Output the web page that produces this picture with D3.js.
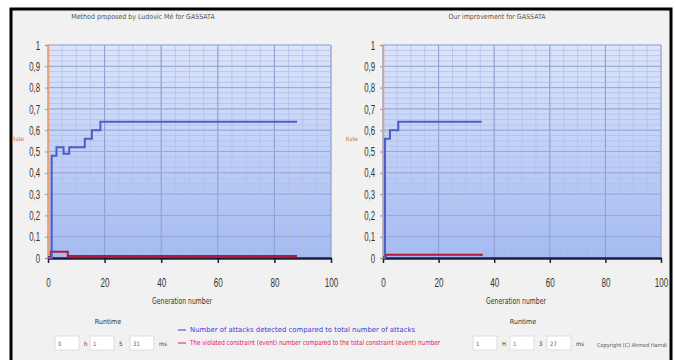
<!DOCTYPE html>
<html>
<head>
<meta charset="utf-8">
<script src="https://cdn.jsdelivr.net/npm/d3@7"></script>
<style>
  body { margin: 0; background: #fff; }
  svg { display: block; font-family: "DejaVu Sans Condensed", "DejaVu Sans", sans-serif; }
</style>
</head>
<body>
<svg id="chart" width="676" height="360"></svg>
<script>
// ---- data ----
const xTicks = [0, 20, 40, 60, 80, 100];
const yTicks = [0, 0.1, 0.2, 0.3, 0.4, 0.5, 0.6, 0.7, 0.8, 0.9, 1];

const titles = ["Method proposed by Ludovic Mé for GASSATA", "Our improvement for GASSATA"];

// left panel, attacks detected ratio (step line)
const leftGen = [0, 1.3, 3, 5.5, 7.5, 13, 15.5, 18.5, 88];
const leftDetected = [0, 0.48, 0.52, 0.49, 0.52, 0.56, 0.6, 0.64, 0.64];
// left panel, violated constraints ratio
const leftRedGen = [0, 1, 7, 88];
const leftViolated = [0, 0.025, 0.005, 0.005];

// right panel
const rightGen = [0, 0.7, 2.5, 5.5, 35.5];
const rightDetected = [0, 0.56, 0.6, 0.64, 0.64];
const rightRedGen = [0, 1, 35.5];
const rightViolated = [0, 0.01, 0.005];

const runtimes = [["0", "h", "1", "5", "31", "ms"], ["1", "H", "1", "3", "27", "ms"]];
const legendItems = [
  { text: "Number of attacks detected compared to  total number of attacks", color: "#3a3ae0", width: 225 },
  { text: "The violated constraint (event) number compared to the total constraint (event) number", color: "#e0205a", width: 250 }
];

// squeeze text horizontally (narrow font look)
function squeeze(sel, factor) {
  sel.each(function () {
    const w = this.getComputedTextLength();
    d3.select(this).attr("textLength", w * factor).attr("lengthAdjust", "spacingAndGlyphs");
  });
}

const svg = d3.select("#chart");

// page frame
svg.append("rect")
  .attr("x", 11).attr("y", 9).attr("width", 660).attr("height", 360)
  .attr("fill", "#f1f1f1").attr("stroke", "#000").attr("stroke-width", 3);

// gradient for the plot area
const defs = svg.append("defs");
const grad = defs.append("linearGradient").attr("id", "plotBg")
  .attr("x1", 0).attr("y1", 0).attr("x2", 0).attr("y2", 1);
grad.append("stop").attr("offset", "0%").attr("stop-color", "#dde5fa");
grad.append("stop").attr("offset", "100%").attr("stop-color", "#a2bbf4");

function drawPanel(opt) {
  const x = d3.scaleLinear().domain([0, 100]).range([opt.x0, opt.x1]);
  const y = d3.scaleLinear().domain([0, 1]).range([258, 45]);
  const g = svg.append("g");

  // title
  g.append("text")
    .attr("x", opt.titleX).attr("y", 19)
    .attr("text-anchor", "middle")
    .attr("fill", "#555")
    .style("font-size", "7px")
    .text(opt.title);

  // background
  g.append("rect")
    .attr("x", x(0)).attr("y", y(1))
    .attr("width", x(100) - x(0)).attr("height", y(0) - y(1))
    .attr("fill", "url(#plotBg)");

  // minor grid
  g.selectAll(".vminor").data(d3.range(0, 101, 5))
    .enter().append("line")
    .attr("x1", d => x(d)).attr("x2", d => x(d))
    .attr("y1", y(1)).attr("y2", y(0))
    .attr("stroke", "#b4c0e6").attr("stroke-width", 0.8);
  g.selectAll(".hminor").data(d3.range(0, 1.001, 0.025))
    .enter().append("line")
    .attr("x1", x(0)).attr("x2", x(100))
    .attr("y1", d => y(d)).attr("y2", d => y(d))
    .attr("stroke", "#b4c0e6").attr("stroke-width", 0.8);
  // major grid
  g.selectAll(".vmajor").data(xTicks)
    .enter().append("line")
    .attr("x1", d => x(d)).attr("x2", d => x(d))
    .attr("y1", y(1)).attr("y2", y(0))
    .attr("stroke", "#8d9dd0").attr("stroke-width", 1);
  g.selectAll(".hmajor").data(yTicks)
    .enter().append("line")
    .attr("x1", x(0)).attr("x2", x(100))
    .attr("y1", d => y(d)).attr("y2", d => y(d))
    .attr("stroke", "#98a6d6").attr("stroke-width", 1);

  // y axis (orange) with ticks
  const yAxis = d3.axisLeft(y).tickValues(yTicks).tickSize(3)
    .tickFormat(d => d3.format(".1~f")(d).replace(".", ","));
  const ya = g.append("g").attr("transform", `translate(${x(0)},0)`).call(yAxis);
  ya.select(".domain").attr("stroke", "#e8a070").attr("stroke-width", 1.5);
  ya.selectAll(".tick line").attr("stroke", "#999");
  ya.selectAll("text").attr("x", -8)
    .style("font-size", "13px").attr("fill", "#333")
    .call(squeeze, 0.6);

  // y label
  g.append("text")
    .attr("x", opt.yLabelX).attr("y", 141)
    .attr("text-anchor", "middle")
    .attr("fill", "#e07030")
    .style("font-size", "6px")
    .text("Rate");

  // x axis
  const xAxis = d3.axisBottom(x).tickValues(xTicks).tickSize(5).tickSizeOuter(0);
  const xa = g.append("g").attr("transform", `translate(0,${y(0)})`).call(xAxis);
  xa.select(".domain").attr("stroke", "#1c1c40").attr("stroke-width", 2.5);
  xa.selectAll(".tick line").attr("stroke", "#1c1c40").attr("stroke-width", 1.5);
  xa.selectAll("text").attr("y", 20)
    .style("font-size", "13px").attr("fill", "#333")
    .call(squeeze, 0.62);

  g.append("text")
    .attr("x", opt.xLabelX).attr("y", 304)
    .attr("text-anchor", "middle")
    .attr("fill", "#333")
    .style("font-size", "8px")
    .text("Generation number")
    .call(squeeze, 0.85);

  // series
  const line = d3.line().curve(d3.curveStepAfter)
    .x(d => x(d[0])).y(d => y(d[1]));
  g.append("path")
    .datum(d3.zip(opt.redGen, opt.violated))
    .attr("d", line.y(d => y(d[1]) - 1))
    .attr("fill", "none").attr("stroke", "#b01838").attr("stroke-width", 2);
  g.append("path")
    .datum(d3.zip(opt.gen, opt.detected))
    .attr("d", line.y(d => y(d[1])))
    .attr("fill", "none").attr("stroke", "#4f5cc4").attr("stroke-width", 2);

  // runtime
  g.append("text")
    .attr("x", opt.runtimeX).attr("y", 324)
    .attr("text-anchor", "middle")
    .attr("fill", "#333")
    .style("font-size", "7px")
    .text("Runtime");

  const boxes = [
    { x: opt.boxX[0], v: opt.runtime[0], unit: opt.runtime[1] },
    { x: opt.boxX[1], v: opt.runtime[2], unit: opt.runtime[3] },
    { x: opt.boxX[2], v: opt.runtime[4], unit: opt.runtime[5] }
  ];
  const bg = g.selectAll(".box").data(boxes).enter().append("g").attr("class", "box");
  bg.append("rect")
    .attr("x", d => d.x).attr("y", 336).attr("width", 24).attr("height", 14)
    .attr("fill", "#fff").attr("stroke", "#ddd");
  bg.append("text")
    .attr("x", d => d.x + 3).attr("y", 346)
    .attr("fill", "#666")
    .style("font-size", "6px")
    .text(d => d.v);
  bg.append("text")
    .attr("x", d => d.x + 29).attr("y", 346)
    .attr("fill", "#333")
    .style("font-size", "6px")
    .text(d => d.unit);
}

drawPanel({
  x0: 48, x1: 331, titleX: 143, title: titles[0], yLabelX: 18, xLabelX: 182,
  gen: leftGen, detected: leftDetected, redGen: leftRedGen, violated: leftViolated,
  runtimeX: 108, boxX: [55, 90, 130], runtime: runtimes[0]
});
drawPanel({
  x0: 383, x1: 661, titleX: 497, title: titles[1], yLabelX: 352, xLabelX: 516,
  gen: rightGen, detected: rightDetected, redGen: rightRedGen, violated: rightViolated,
  runtimeX: 523, boxX: [473, 510, 547], runtime: runtimes[1]
});

// legend
const lg = svg.selectAll(".legend").data(legendItems).enter().append("g")
  .attr("class", "legend")
  .attr("transform", (d, i) => `translate(178,${332 + i * 13})`);
lg.append("line").attr("x1", 0).attr("x2", 8).attr("y1", -2).attr("y2", -2)
  .attr("stroke", d => d.color).attr("stroke-width", 1);
lg.append("text").attr("x", 12).attr("y", 0)
  .attr("fill", d => d.color)
  .style("font-size", "7px")
  .attr("textLength", d => d.width).attr("lengthAdjust", "spacingAndGlyphs")
  .text(d => d.text);

svg.append("text")
  .attr("x", 632).attr("y", 347).attr("text-anchor", "middle")
  .attr("fill", "#555")
  .style("font-size", "5.5px")
  .text("Copyright (C) Ahmed Hamdi");
</script>
</body>
</html>
